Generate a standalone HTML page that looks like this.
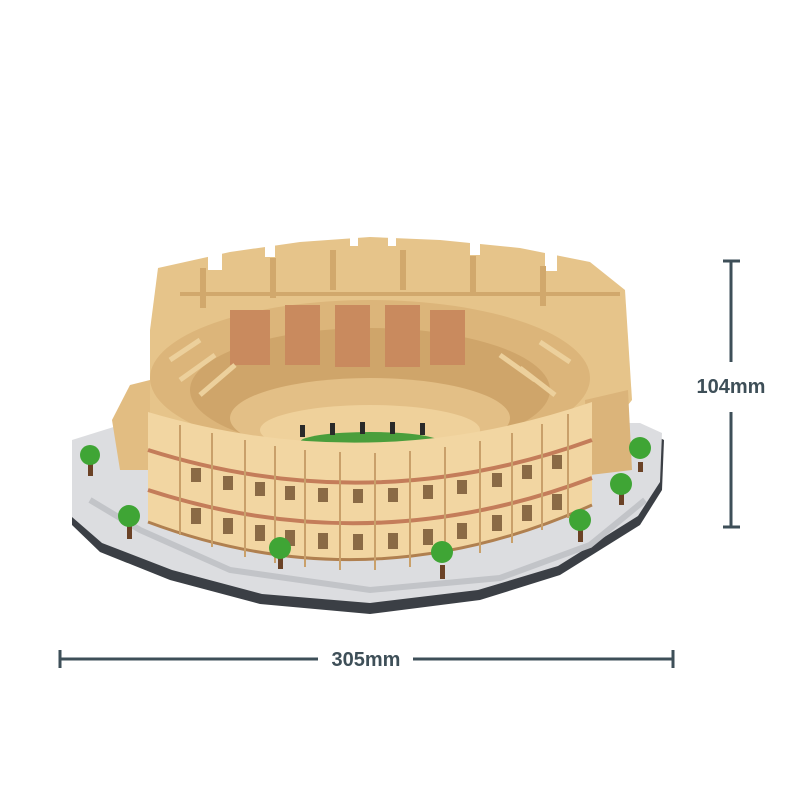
<!DOCTYPE html>
<html><head><meta charset="utf-8"><style>
html,body{margin:0;padding:0;background:#fff;width:800px;height:800px;overflow:hidden}
svg{display:block}
text{font-family:"Liberation Sans",sans-serif;font-weight:bold;fill:#3e4f58}
</style></head><body>
<svg width="800" height="800" viewBox="0 0 800 800">
<g stroke="#3e4f58" stroke-width="3" fill="none">
<line x1="731" y1="261" x2="731" y2="362"/><line x1="731" y1="412" x2="731" y2="527"/>
<line x1="723" y1="261" x2="740" y2="261"/><line x1="723" y1="527" x2="740" y2="527"/>
<line x1="60" y1="659" x2="318" y2="659"/><line x1="413" y1="659" x2="673" y2="659"/>
<line x1="60" y1="650" x2="60" y2="668"/><line x1="673" y1="650" x2="673" y2="668"/>
</g>
<text x="731" y="393" font-size="20" text-anchor="middle">104mm</text>
<text x="366" y="666" font-size="20" text-anchor="middle">305mm</text>

<path d="M72,448 L120,430 L640,428 L664,440 L662,490 L640,525 L560,575 L480,600 L370,614 L260,604 L170,580 L100,552 L72,525 Z" fill="#3b3f45"/>
<path d="M72,440 L120,425 L640,423 L662,433 L660,482 L638,516 L558,566 L478,590 L370,603 L262,594 L172,570 L102,543 L72,517 Z" fill="#dcdde0"/>
<path d="M90,500 L140,530 L230,570 L370,590 L500,578 L590,545 L645,500" stroke="#c2c4c8" stroke-width="6" fill="none"/>

<path d="M150,330 L158,268 L230,252 L300,242 L370,237 L440,240 L520,248 L590,262 L625,290 L632,400 L600,440 L150,440 Z" fill="#e6c48a"/>
<g fill="#fff">
<rect x="208" y="245" width="14" height="25"/><rect x="265" y="235" width="10" height="22"/><rect x="350" y="230" width="8" height="16"/><rect x="388" y="230" width="8" height="16"/><rect x="470" y="235" width="10" height="20"/><rect x="545" y="245" width="12" height="26"/>
</g>
<g fill="#d1a86c">
<rect x="200" y="268" width="6" height="40"/><rect x="270" y="258" width="6" height="40"/><rect x="330" y="250" width="6" height="40"/>
<rect x="400" y="250" width="6" height="40"/><rect x="470" y="256" width="6" height="40"/><rect x="540" y="266" width="6" height="40"/>
<rect x="180" y="292" width="440" height="4"/></g>
<path d="M112,420 L130,385 L150,380 L150,470 L120,470 Z" fill="#e2bd82"/>
<path d="M585,400 L628,390 L632,470 L590,475 Z" fill="#dbb47a"/>
<ellipse cx="370" cy="378" rx="220" ry="78" fill="#dcb57a"/>
<ellipse cx="370" cy="390" rx="180" ry="62" fill="#cfa56a"/>
<g fill="#c98a5e"><rect x="230" y="310" width="40" height="55"/><rect x="285" y="305" width="35" height="60"/><rect x="335" y="305" width="35" height="62"/><rect x="385" y="305" width="35" height="62"/><rect x="430" y="310" width="35" height="55"/></g>
<g stroke="#ecd09c" stroke-width="5">
<line x1="180" y1="380" x2="215" y2="355"/><line x1="200" y1="395" x2="235" y2="365"/><line x1="500" y1="355" x2="535" y2="380"/><line x1="520" y1="368" x2="555" y2="395"/>
<line x1="170" y1="360" x2="200" y2="340"/><line x1="540" y1="342" x2="570" y2="362"/></g>
<ellipse cx="370" cy="418" rx="140" ry="40" fill="#e3bf86"/>
<ellipse cx="370" cy="430" rx="110" ry="25" fill="#efd19b"/>
<ellipse cx="370" cy="442" rx="70" ry="10" fill="#4a9e3c"/>
<g fill="#2a2a2a"><rect x="300" y="425" width="5" height="12"/><rect x="330" y="423" width="5" height="12"/><rect x="360" y="422" width="5" height="12"/><rect x="390" y="422" width="5" height="12"/><rect x="420" y="423" width="5" height="12"/></g>

<path d="M148,412 Q370,478 592,402 L592,505 Q370,605 148,522 Z" fill="#f2d6a2"/>
<path d="M148,450 Q370,520 592,440" stroke="#c47d5a" stroke-width="4" fill="none"/>
<path d="M148,490 Q370,562 592,478" stroke="#c47d5a" stroke-width="4" fill="none"/>
<path d="M148,522 Q370,605 592,505" stroke="#b08050" stroke-width="3" fill="none"/>
<g stroke="#c9a06a" stroke-width="2">
<line x1="180" y1="425" x2="180" y2="535"/><line x1="212" y1="433" x2="212" y2="547"/><line x1="245" y1="440" x2="245" y2="557"/><line x1="275" y1="446" x2="275" y2="563"/><line x1="305" y1="450" x2="305" y2="567"/><line x1="340" y1="452" x2="340" y2="570"/><line x1="375" y1="453" x2="375" y2="570"/><line x1="410" y1="451" x2="410" y2="567"/><line x1="445" y1="447" x2="445" y2="562"/><line x1="480" y1="441" x2="480" y2="553"/><line x1="512" y1="433" x2="512" y2="543"/><line x1="542" y1="424" x2="542" y2="530"/><line x1="568" y1="414" x2="568" y2="518"/></g>
<g fill="#8a6a45">
<rect x="191" y="468" width="10" height="14"/><rect x="223" y="476" width="10" height="14"/><rect x="255" y="482" width="10" height="14"/><rect x="285" y="486" width="10" height="14"/><rect x="318" y="488" width="10" height="14"/><rect x="353" y="489" width="10" height="14"/><rect x="388" y="488" width="10" height="14"/><rect x="423" y="485" width="10" height="14"/><rect x="457" y="480" width="10" height="14"/><rect x="492" y="473" width="10" height="14"/><rect x="522" y="465" width="10" height="14"/><rect x="552" y="455" width="10" height="14"/>
<rect x="191" y="508" width="10" height="16"/><rect x="223" y="518" width="10" height="16"/><rect x="255" y="525" width="10" height="16"/><rect x="285" y="530" width="10" height="16"/><rect x="318" y="533" width="10" height="16"/><rect x="353" y="534" width="10" height="16"/><rect x="388" y="533" width="10" height="16"/><rect x="423" y="529" width="10" height="16"/><rect x="457" y="523" width="10" height="16"/><rect x="492" y="515" width="10" height="16"/><rect x="522" y="505" width="10" height="16"/><rect x="552" y="494" width="10" height="16"/></g>

<g>
<rect x="88" y="462" width="5" height="14" fill="#6b4226"/><circle cx="90" cy="455" r="10" fill="#3fa535"/>
<rect x="127" y="525" width="5" height="14" fill="#6b4226"/><circle cx="129" cy="516" r="11" fill="#3fa535"/>
<rect x="278" y="555" width="5" height="14" fill="#6b4226"/><circle cx="280" cy="548" r="11" fill="#3fa535"/>
<rect x="440" y="565" width="5" height="14" fill="#6b4226"/><circle cx="442" cy="552" r="11" fill="#3fa535"/>
<rect x="578" y="530" width="5" height="12" fill="#6b4226"/><circle cx="580" cy="520" r="11" fill="#3fa535"/>
<rect x="619" y="493" width="5" height="12" fill="#6b4226"/><circle cx="621" cy="484" r="11" fill="#3fa535"/>
<rect x="638" y="462" width="5" height="10" fill="#6b4226"/><circle cx="640" cy="448" r="11" fill="#3fa535"/>
</g>
</svg>
</body></html>
